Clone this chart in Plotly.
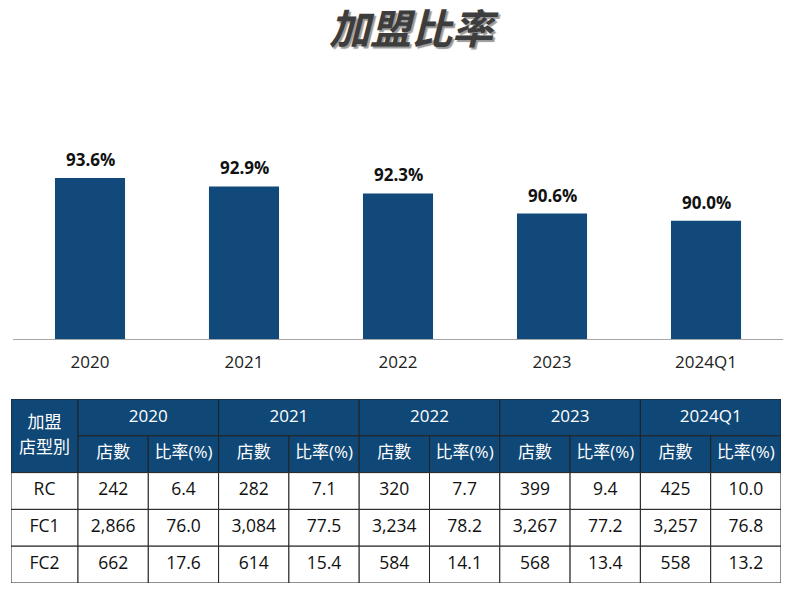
import plotly.graph_objects as go

# ---------------- data ----------------
categories = ["2020", "2021", "2022", "2023", "2024Q1"]
franchise_rate = [93.6, 92.9, 92.3, 90.6, 90.0]

store_types = ["RC", "FC1", "FC2"]
rc_counts = [242, 282, 320, 399, 425]
rc_ratio = [6.4, 7.1, 7.7, 9.4, 10.0]
fc1_counts = [2866, 3084, 3234, 3267, 3257]
fc1_ratio = [76.0, 77.5, 78.2, 77.2, 76.8]
fc2_counts = [662, 614, 584, 568, 558]
fc2_ratio = [17.6, 15.4, 14.1, 13.4, 13.2]
sub_headers = ["店數", "比率(%)"]
corner_label = ["加盟", "店型別"]
title_text = "加盟比率"

# ---------------- styles ----------------
BAR_COLOR = "#114A7A"
HEAD_COLOR = "#0F4776"
LINE_COLOR = "#222222"
FONT = "Open Sans, Noto Sans CJK TC, sans-serif"
CJK = "Noto Sans CJK TC, Open Sans, sans-serif"

W, H = 800, 591

fig = go.Figure()

# ---------------- bar chart ----------------
fig.add_trace(go.Bar(
    x=categories, y=franchise_rate, width=0.455,
    marker=dict(color=BAR_COLOR, line=dict(width=0)),
    hoverinfo="skip", showlegend=False,
))

for i, v in enumerate(franchise_rate):
    fig.add_annotation(
        x=i, y=v, xref="x", yref="y", text=f"{v:.1f}%",
        showarrow=False, yanchor="bottom", yshift=5,
        font=dict(family=FONT, size=17, color="#111111", weight="bold"),
    )

# ---------------- table (drawn on its own axes) ----------------
first_w = 67 / 70.3
col_edges = [0, first_w]
for i in range(len(categories) * 2):
    col_edges.append(col_edges[-1] + 1)
n_rows = 2 + len(store_types)

shapes = []
tx, ty, tt, tc, ts = [], [], [], [], []


def cell(x0, x1, y0, y1, fill):
    shapes.append(dict(type="rect", xref="x2", yref="y2", x0=x0, x1=x1, y0=y0, y1=y1,
                       fillcolor=fill, line=dict(color=LINE_COLOR, width=1), layer="below"))


def put(x, y, text, color, size):
    tx.append(x); ty.append(y); tt.append(text); tc.append(color); ts.append(size)


# corner merged cell
cell(col_edges[0], col_edges[1], 0, 2, HEAD_COLOR)
put(first_w / 2, 1 - 0.34, corner_label[0], "white", 17)
put(first_w / 2, 1 + 0.34, corner_label[1], "white", 17)

# year header + sub headers
for i, cat in enumerate(categories):
    a = col_edges[1 + 2 * i]
    b = col_edges[3 + 2 * i]
    cell(a, b, 0, 1, HEAD_COLOR)
    put((a + b) / 2, 0.5, cat, "white", 17)
    for j, sh in enumerate(sub_headers):
        s0 = col_edges[1 + 2 * i + j]
        s1 = col_edges[2 + 2 * i + j]
        cell(s0, s1, 1, 2, HEAD_COLOR)
        put((s0 + s1) / 2, 1.5, sh, "white", 17)

# body
body_counts = [rc_counts, fc1_counts, fc2_counts]
body_ratio = [rc_ratio, fc1_ratio, fc2_ratio]
for r, st in enumerate(store_types):
    y0 = 2 + r
    cell(col_edges[0], col_edges[1], y0, y0 + 1, "white")
    put(first_w / 2, y0 + 0.5, st, "#111111", 17.5)
    for i in range(len(categories)):
        for j, val in enumerate([f"{body_counts[r][i]:,}", f"{body_ratio[r][i]:.1f}"]):
            s0 = col_edges[1 + 2 * i + j]
            s1 = col_edges[2 + 2 * i + j]
            cell(s0, s1, y0, y0 + 1, "white")
            put((s0 + s1) / 2, y0 + 0.5, val, "#111111", 17.5)

fig.add_trace(go.Scatter(
    x=tx, y=ty, text=tt, mode="text", xaxis="x2", yaxis="y2",
    textposition="middle center",
    textfont=dict(family=FONT, size=ts, color=tc),
    hoverinfo="skip", showlegend=False,
))

# ---------------- title ----------------
fig.add_annotation(
    x=414 / W, y=1 - 26 / H, xref="paper", yref="paper", text=title_text,
    showarrow=False, xanchor="center", yanchor="middle",
    font=dict(family=CJK, size=41, color="#3D3D3D", weight="bold", style="italic",
              shadow="2px 2px 1px #9A9A9A"),
)

fig.update_layout(
    width=W, height=H,
    margin=dict(l=0, r=0, t=0, b=0),
    paper_bgcolor="white", plot_bgcolor="white",
    shapes=shapes,
    xaxis=dict(domain=[13 / W, 783 / W], type="category", range=[-0.5, len(categories) - 0.5],
               showline=True, linecolor="#A6A6A6", linewidth=1,
               ticks="", showgrid=False, zeroline=False, ticklabelstandoff=8,
               tickfont=dict(family=FONT, size=17, color="#222222"), fixedrange=True),
    yaxis=dict(domain=[1 - 339 / H, 1 - 102.4 / H], range=[80, 100], visible=False,
               showgrid=False, fixedrange=True),
    xaxis2=dict(domain=[11 / W, 781 / W], range=[0, col_edges[-1]], visible=False,
                showgrid=False, zeroline=False, fixedrange=True, anchor="y2"),
    yaxis2=dict(domain=[1 - 583 / H, 1 - 399 / H], range=[n_rows, 0], visible=False,
                showgrid=False, zeroline=False, fixedrange=True, anchor="x2"),
)

fig.write_html("out.html", config={"displayModeBar": False},
               post_script="document.body.style.margin='0';")
